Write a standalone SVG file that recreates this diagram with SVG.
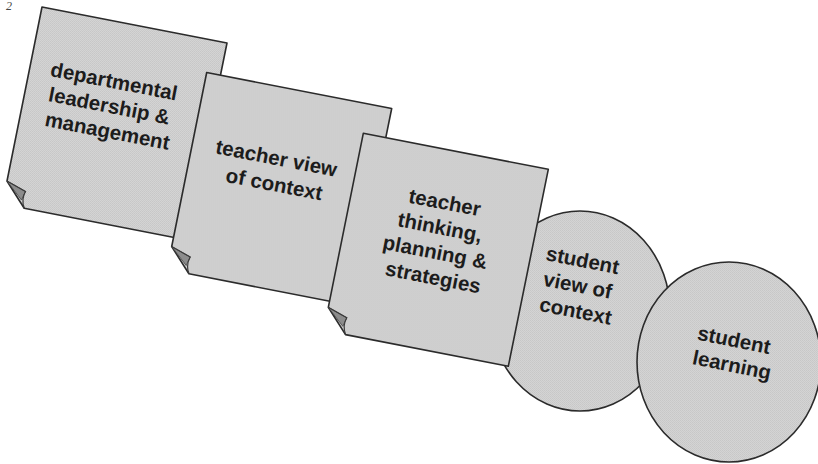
<svg xmlns="http://www.w3.org/2000/svg" xmlns:xlink="http://www.w3.org/1999/xlink" width="818" height="464" viewBox="0 0 818 464">
  <defs>
    <pattern id="tex" patternUnits="userSpaceOnUse" width="2" height="2">
      <rect width="2" height="2" fill="#d4d4d4"/>
      <rect width="1" height="1" fill="#c7c7c7"/>
      <rect x="1" y="1" width="1" height="1" fill="#cacaca"/>
    </pattern>
    <path id="pageShape" d="M0,0 L185,36 L145,233 L-17.8,201.3 L-35,174 Z"/>
    <path id="curlDark" d="M-35,174 L-16.5,184.5 L-20.5,193 Z"/>
    <path id="curlLine" d="M-35,174 L-16.5,184.5 Q-21,192 -17.8,201.3"/>
  </defs>
  <style>
    .shape { fill: url(#tex); stroke: #2b2b2b; stroke-width: 1.6; stroke-linejoin: round; }
    .curl { fill: #8c8c8c; stroke: #444; stroke-width: 0.8; }
    .curlline { fill: none; stroke: #3a3a3a; stroke-width: 1.2; }
    .lbl { font-family: "Liberation Sans", Arial, Helvetica, sans-serif; font-weight: bold; font-size: 20.5px; fill: #1c1c1c; text-anchor: middle; }
    .pg { font-family: "Liberation Serif", "Times New Roman", serif; font-style: italic; font-size: 12px; fill: #444; }
  </style>
  <rect width="818" height="464" fill="#ffffff"/>
  <text class="pg" x="6" y="10">2</text>

  <g id="dept-leadership">
    <g transform="translate(42,7)">
      <use xlink:href="#pageShape" class="shape"/>
      <use xlink:href="#curlDark" class="curl"/>
      <use xlink:href="#curlLine" class="curlline"/>
    </g>
    <text class="lbl" transform="translate(110.8,113.3) rotate(11)">
      <tspan x="0" y="-25">departmental</tspan>
      <tspan x="0" y="0">leadership &amp;</tspan>
      <tspan x="0" y="25">management</tspan>
    </text>
  </g>

  <g id="teacher-view">
    <g transform="translate(206.7,72.5)">
      <use xlink:href="#pageShape" class="shape"/>
      <use xlink:href="#curlDark" class="curl"/>
      <use xlink:href="#curlLine" class="curlline"/>
    </g>
    <text class="lbl" transform="translate(275.4,178.3) rotate(11)">
      <tspan x="0" y="-13">teacher view</tspan>
      <tspan x="0" y="13">of context</tspan>
    </text>
  </g>

  <g id="student-view">
    <ellipse class="shape" cx="580" cy="311" rx="90" ry="100"/>
    <text class="lbl" transform="translate(579.2,292.7) rotate(11)">
      <tspan x="0" y="-25.5">student</tspan>
      <tspan x="0" y="0">view of</tspan>
      <tspan x="0" y="25.5">context</tspan>
    </text>
  </g>

  <g id="teacher-thinking">
    <g transform="translate(363.3,133.3)">
      <use xlink:href="#pageShape" class="shape"/>
      <use xlink:href="#curlDark" class="curl"/>
      <use xlink:href="#curlLine" class="curlline"/>
    </g>
    <text class="lbl" transform="translate(439,247.1) rotate(11)">
      <tspan x="0" y="-37.9">teacher</tspan>
      <tspan x="0" y="-12.6">thinking,</tspan>
      <tspan x="0" y="12.6">planning &amp;</tspan>
      <tspan x="0" y="37.9">strategies</tspan>
    </text>
  </g>

  <g id="student-learning">
    <ellipse class="shape" cx="729" cy="362" rx="92" ry="100"/>
    <text class="lbl" transform="translate(733,359.6) rotate(11.5)">
      <tspan x="0" y="-12.5">student</tspan>
      <tspan x="0" y="12.5">learning</tspan>
    </text>
  </g>

  <g id="connectors"/>
</svg>
